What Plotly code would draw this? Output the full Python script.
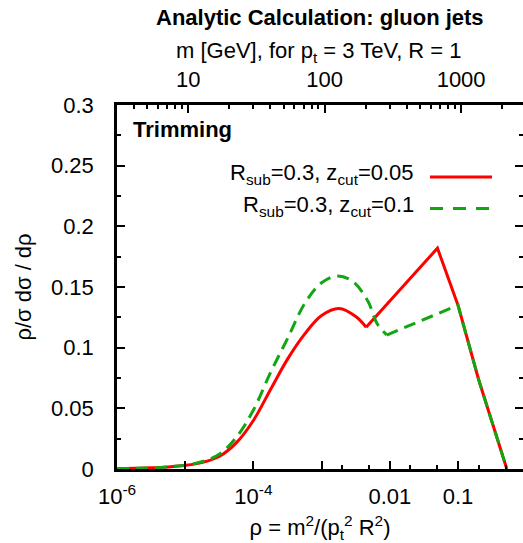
import math
import plotly.graph_objects as go

# ---------------- data ----------------
# red: R_sub=0.3, z_cut=0.05 ; smooth part then piecewise part
rho_red_smooth = [1e-6, 1.8e-6, 3.2e-6, 5.6e-6, 1e-5, 1.8e-5, 3.2e-5, 5.6e-5, 1e-4, 1.8e-4,
                  3.2e-4, 5.6e-4, 1e-3, 1.8e-3, 3.2e-3, 4.5e-3]
val_red_smooth = [0.0003, 0.0006, 0.0010, 0.0017, 0.0030, 0.0055, 0.0105, 0.0215, 0.040, 0.066,
                  0.091, 0.111, 0.1265, 0.1323, 0.1255, 0.1168]
rho_red_tail = [4.5e-3, 1.4e-2, 5e-2, 0.1, 0.2, 0.52]
val_red_tail = [0.1168, 0.1475, 0.182, 0.135, 0.074, 0.0]

# green: R_sub=0.3, z_cut=0.1
rho_green_smooth = [1e-6, 1.8e-6, 3.2e-6, 5.6e-6, 1e-5, 1.8e-5, 3.2e-5, 5.6e-5, 1e-4, 1.8e-4,
                    3.2e-4, 5.6e-4, 1e-3, 1.7e-3, 2.9e-3, 4.8e-3, 6.5e-3, 9e-3]
val_green_smooth = [0.0003, 0.0006, 0.0010, 0.0018, 0.0032, 0.0062, 0.0124, 0.026, 0.0486, 0.080,
                    0.108, 0.136, 0.1535, 0.159, 0.1544, 0.138, 0.120, 0.1104]
rho_green_tail = [9e-3, 0.1, 0.2, 0.52]
val_green_tail = [0.1104, 0.135, 0.074, 0.0]

x_tickvals = [1e-6, 1e-5, 1e-4, 1e-3, 1e-2, 1e-1]
x_ticktext = ["10<sup>-6</sup>", "", "10<sup>-4</sup>", "", "0.01", "0.1"]
x_minor = [2e-3, 5e-3, 2e-2, 5e-2, 0.2, 0.5]

m_tickvals = [10, 100, 1000]
m_ticktext = ["10", "100", "1000"]
m_minor = [4, 5, 6, 7, 8, 9, 20, 30, 40, 50, 60, 70, 80, 90,
           200, 300, 400, 500, 600, 700, 800, 900, 2000]
pt_GeV = 3000.0
R_jet = 1.0

y_tickvals = [0, 0.05, 0.1, 0.15, 0.2, 0.25, 0.3]
y_ticktext = ["0", "0.05", "0.1", "0.15", "0.2", "0.25", "0.3"]
y_minor = [0.025, 0.075, 0.125, 0.175, 0.225, 0.275]

labels = ["R<sub>sub</sub>=0.3, z<sub>cut</sub>=0.05", "R<sub>sub</sub>=0.3, z<sub>cut</sub>=0.1"]
colors = ["#ff0000", "#12a612"]

# ---------------- layout geometry ----------------
W, H = 523, 543
ML, MR, MT, MB = 117, 0, 105, 74
PW, PH = W - ML - MR, H - MT - MB
x_log_range = [-6, -6 + PW / 68.2]
m_log_range = [math.log10(pt_GeV * R_jet) + 0.5 * v for v in x_log_range]


def px(xp):
    return (xp - ML) / PW


def py(yp):
    return (H - MB - yp) / PH


FONT = "Liberation Sans, Arial, Helvetica, sans-serif"

fig = go.Figure()
red_line = dict(color=colors[0], width=3)
green_line = dict(color=colors[1], width=3, dash="12px,7px")
fig.add_trace(go.Scatter(x=rho_red_smooth, y=val_red_smooth, mode="lines",
                         line=dict(shape="spline", smoothing=1, **red_line), showlegend=False))
fig.add_trace(go.Scatter(x=rho_red_tail, y=val_red_tail, mode="lines", line=red_line,
                         showlegend=False))
fig.add_trace(go.Scatter(x=rho_green_smooth, y=val_green_smooth, mode="lines",
                         line=dict(shape="spline", smoothing=1, **green_line), showlegend=False))
fig.add_trace(go.Scatter(x=rho_green_tail, y=val_green_tail, mode="lines", line=green_line,
                         showlegend=False))
# empty trace so the secondary (top / right) axes are drawn
fig.add_trace(go.Scatter(x=[m_tickvals[0]], y=[None], xaxis="x2", yaxis="y2", mode="lines",
                         showlegend=False, hoverinfo="skip"))

axis_common = dict(showgrid=False, zeroline=False, linecolor="black", linewidth=2.5,
                   ticks="inside", ticklen=8, tickwidth=2, tickcolor="black",
                   tickfont=dict(size=22, color="black", family=FONT))
minor_common = dict(tickmode="array", ticks="inside", ticklen=4, tickwidth=2,
                    tickcolor="black", showgrid=False)

fig.update_layout(
    width=W, height=H,
    margin=dict(l=ML, r=MR, t=MT, b=MB, pad=0),
    paper_bgcolor="white", plot_bgcolor="white",
    font=dict(family=FONT, size=22, color="black"),
    showlegend=False,
    xaxis=dict(type="log", range=x_log_range, showline=True,
               tickmode="array", tickvals=x_tickvals, ticktext=x_ticktext,
               ticklabelstandoff=6,
               minor=dict(tickvals=x_minor, **minor_common),
               title=dict(text="ρ = m<sup>2</sup>/(p<sub>t</sub><sup>2</sup> R<sup>2</sup>)",
                          font=dict(size=22), standoff=14),
               **axis_common),
    xaxis2=dict(type="log", range=m_log_range, overlaying="x", side="top", anchor="y",
                showline=True, tickmode="array", tickvals=m_tickvals, ticktext=m_ticktext,
                ticklabelstandoff=6,
                minor=dict(tickvals=m_minor, **minor_common),
                **axis_common),
    yaxis=dict(range=[0, 0.3], showline=True, tickmode="array",
               tickvals=y_tickvals, ticktext=y_ticktext, ticklabelstandoff=16,
               minor=dict(tickvals=y_minor, **minor_common),
               title=dict(text="ρ/σ dσ / dρ", font=dict(size=22), standoff=14),
               **axis_common),
    yaxis2=dict(range=[0, 0.3], overlaying="y", side="right", anchor="x",
                showline=False, showticklabels=False, tickmode="array",
                tickvals=y_tickvals,
                minor=dict(tickvals=y_minor, **minor_common),
                **axis_common),
)

ann = [
    dict(text="<b>Analytic Calculation: gluon jets</b>", x=px(320), y=py(18),
         xanchor="center", yanchor="middle", font=dict(size=22)),
    dict(text="m [GeV], for p<sub>t</sub> = 3 TeV, R = 1", x=px(319), y=py(52),
         xanchor="center", yanchor="middle", font=dict(size=22)),
    dict(text="<b>Trimming</b>", x=px(131), y=py(129),
         xanchor="left", yanchor="middle", font=dict(size=22)),
    dict(text=labels[0], x=px(416), y=py(174),
         xanchor="right", yanchor="middle", font=dict(size=22)),
    dict(text=labels[1], x=px(416), y=py(206),
         xanchor="right", yanchor="middle", font=dict(size=22)),
]
for a in ann:
    a.update(xref="paper", yref="paper", showarrow=False)
fig.update_layout(annotations=ann)

fig.add_shape(type="line", xref="paper", yref="paper", x0=px(430), x1=px(492),
              y0=py(177), y1=py(177), line=dict(color=colors[0], width=3))
fig.add_shape(type="line", xref="paper", yref="paper", x0=px(430), x1=px(492),
              y0=py(208.5), y1=py(208.5), line=dict(color=colors[1], width=3, dash="13px,10px"))

fig.write_html("out.html")
